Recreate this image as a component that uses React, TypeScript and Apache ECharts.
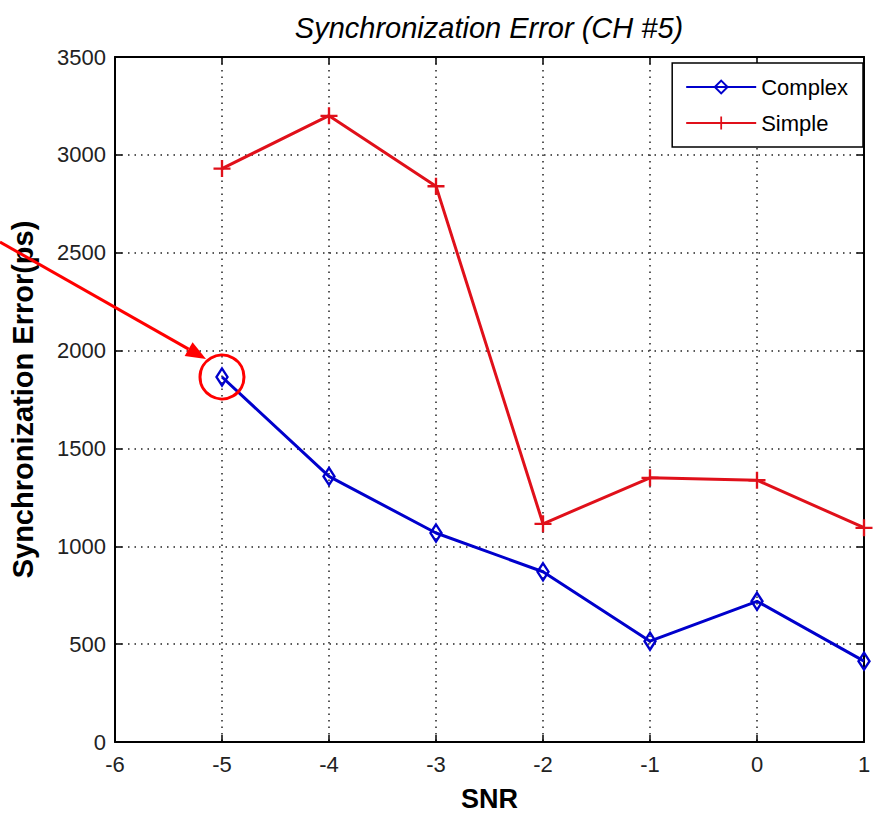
import React, { useEffect, useRef } from "react";
import * as echarts from "echarts";

// SNR values along the x axis
const snr = [-5, -4, -3, -2, -1, 0, 1];
// Synchronization error in ps
const complexErr = [1865, 1357, 1068, 870, 515, 719, 413];
const simpleErr = [2930, 3200, 2840, 1115, 1350, 1338, 1095];

const xTicks = { min: -6, max: 1, interval: 1 };
const yTicks = { min: 0, max: 3500, interval: 500 };

const sans = "'Liberation Sans', Arial, sans-serif";

const PLUS = "path://M0,7H16V9.2H0Z M6.9,0H9.1V16H6.9Z";

export default function App() {
  const ref = useRef<HTMLDivElement>(null);

  useEffect(() => {
    if (!ref.current) return;
    const chart = echarts.init(ref.current, null, { renderer: "svg" });

    const axisLine = { show: true, onZero: false, lineStyle: { color: "#000", width: 2 } };
    const tick = { show: true, inside: true, length: 7, lineStyle: { color: "#000", width: 1.5 } };
    const dotted = { show: true, lineStyle: { color: "#222", width: 1.5, type: [1.5, 5] as any } };
    const tickLabel = {
      color: "#222",
      fontSize: 22,
      fontFamily: sans,
      formatter: (v: number) => String(v),
    };

    chart.setOption({
      animation: false,
      backgroundColor: "#fff",
      title: {
        text: "Synchronization Error (CH #5)",
        left: 484,
        top: 8,
        textAlign: "center",
        textStyle: { fontSize: 29, fontStyle: "italic", fontWeight: "normal", color: "#000", fontFamily: sans },
      },
      legend: {
        orient: "vertical",
        right: 13,
        top: 63,
        itemWidth: 70,
        itemHeight: 16,
        itemGap: 14,
        padding: [13, 15, 13, 13],
        borderColor: "#000",
        borderWidth: 1.5,
        backgroundColor: "#fff",
        textStyle: { fontSize: 22, color: "#000", fontFamily: sans },
        data: ["Complex", "Simple"],
      },
      grid: { left: 112, right: 12, top: 57, bottom: 68 },
      xAxis: [
        {
          type: "value",
          ...xTicks,
          name: "SNR",
          nameLocation: "middle",
          nameGap: 43,
          nameTextStyle: { fontSize: 27, fontWeight: "bold", color: "#000", fontFamily: sans },
          axisLine,
          axisTick: tick,
          splitLine: dotted,
          axisLabel: { ...tickLabel, margin: 11 },
        },
        {
          type: "value",
          position: "top",
          ...xTicks,
          axisLine,
          axisTick: tick,
          splitLine: { show: false },
          axisLabel: { show: false },
        },
      ],
      yAxis: [
        {
          type: "value",
          ...yTicks,
          name: "Synchronization Error(ps)",
          nameLocation: "middle",
          nameGap: 78,
          nameTextStyle: { fontSize: 29, fontWeight: "bold", color: "#000", fontFamily: sans },
          axisLine,
          axisTick: tick,
          splitLine: dotted,
          axisLabel: { ...tickLabel, margin: 9 },
        },
        {
          type: "value",
          position: "right",
          ...yTicks,
          axisLine,
          axisTick: tick,
          splitLine: { show: false },
          axisLabel: { show: false },
        },
      ],
      series: [
        {
          name: "Complex",
          type: "line",
          data: snr.map((x, i) => [x, complexErr[i]]),
          symbol: "diamond",
          symbolSize: [11, 17],
          showAllSymbol: true,
          lineStyle: { color: "#0000cc", width: 3 },
          itemStyle: { color: "rgba(255,255,255,0)", borderColor: "#0000cc", borderWidth: 2.5 },
          z: 3,
        },
        {
          name: "Simple",
          type: "line",
          data: snr.map((x, i) => [x, simpleErr[i]]),
          symbol: PLUS,
          symbolSize: 17,
          showAllSymbol: true,
          lineStyle: { color: "#e0101a", width: 3 },
          itemStyle: { color: "#e0101a" },
          z: 3,
        },
      ],
    });

    // Red callout: a circle around the first Complex point with an arrow pointing at it
    const p = chart.convertToPixel({ xAxisIndex: 0, yAxisIndex: 0 }, [snr[0], complexErr[0]]) as number[];
    const tip = [p[0] - 16, p[1] - 18];
    const start = [0, 242];
    const ang = Math.atan2(tip[1] - start[1], tip[0] - start[0]);
    const headLen = 20;
    const headHalf = 8;
    const base = [tip[0] - headLen * Math.cos(ang), tip[1] - headLen * Math.sin(ang)];
    const nx = -Math.sin(ang);
    const ny = Math.cos(ang);
    chart.setOption({
      graphic: [
        {
          type: "circle",
          shape: { cx: p[0], cy: p[1], r: 22 },
          style: { fill: "none", stroke: "#ff0000", lineWidth: 3 },
          z: 100,
        },
        {
          type: "line",
          shape: { x1: start[0], y1: start[1], x2: base[0], y2: base[1] },
          style: { stroke: "#ff0000", lineWidth: 3 },
          z: 100,
        },
        {
          type: "polygon",
          shape: {
            points: [
              tip,
              [base[0] + nx * headHalf, base[1] + ny * headHalf],
              [base[0] - nx * headHalf, base[1] - ny * headHalf],
            ],
          },
          style: { fill: "#ff0000" },
          z: 100,
        },
      ],
    });

    return () => chart.dispose();
  }, []);

  return (
    <div
      ref={ref}
      style={{ position: "fixed", left: 0, top: 0, width: 876, height: 817, background: "#fff" }}
    />
  );
}
